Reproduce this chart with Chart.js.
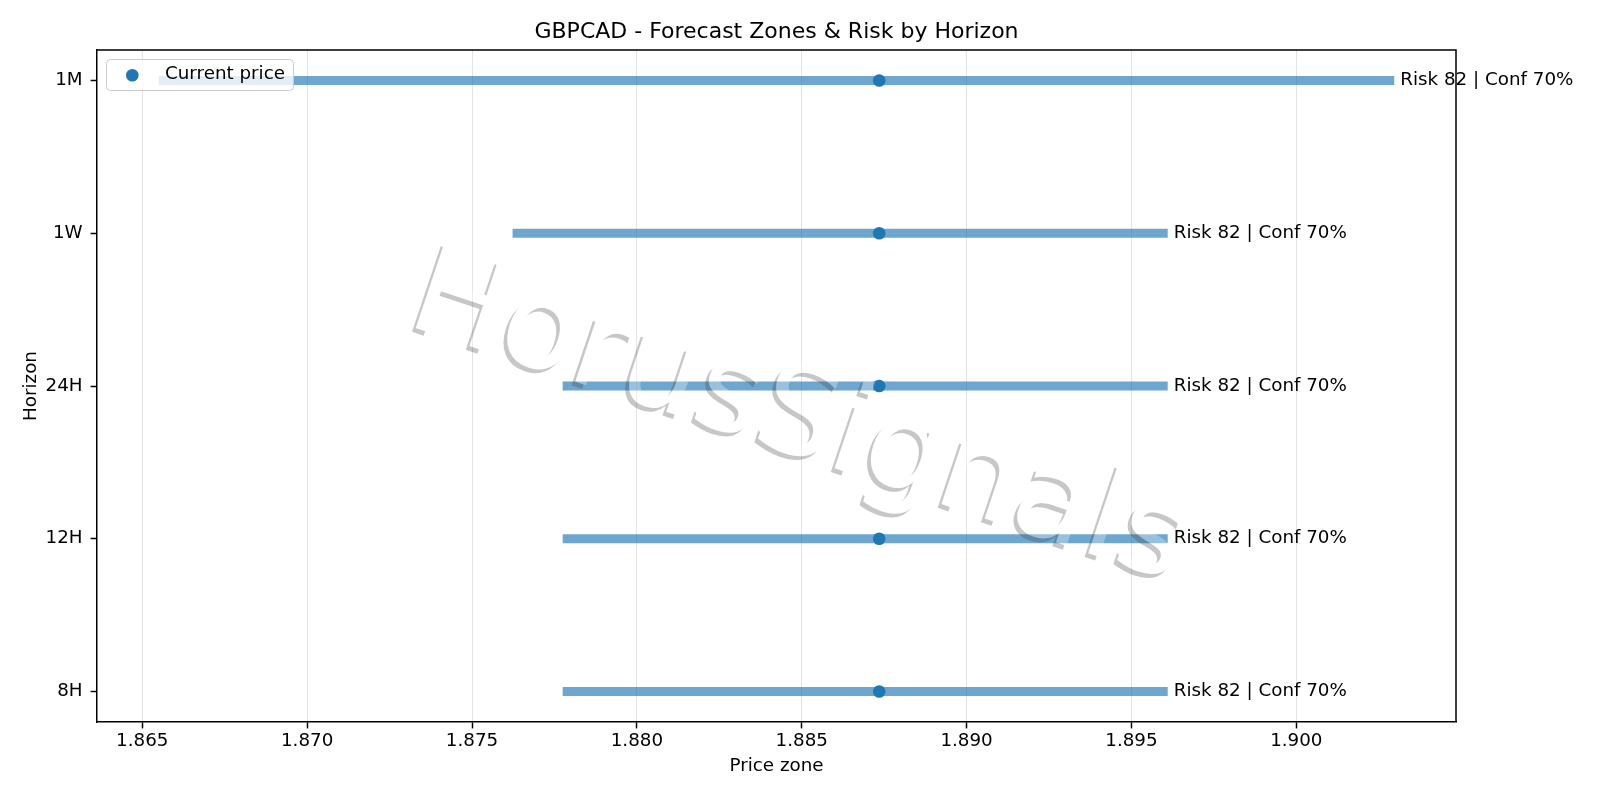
<!DOCTYPE html>
<html><head><meta charset="utf-8">
<script src="https://cdn.jsdelivr.net/npm/chart.js@4/dist/chart.umd.min.js"></script>
<style>html,body{margin:0;padding:0;background:#fff;}canvas{display:block;}</style>
</head><body>
<canvas id="c" width="1600" height="800"></canvas>
<script>
// ---- data ----
const horizons = ['8H', '12H', '24H', '1W', '1M'];
const zoneLow = [1.87775, 1.87775, 1.87775, 1.87623, 1.86550];
const zoneHigh = [1.89610, 1.89610, 1.89610, 1.89610, 1.90297];
const currentPrice = [1.88735, 1.88735, 1.88735, 1.88735, 1.88735];
const riskScores = [82, 82, 82, 82, 82];
const confidences = [70, 70, 70, 70, 70];
const xTicks = [1.865, 1.870, 1.875, 1.880, 1.885, 1.890, 1.895, 1.900];
const chartTitle = 'GBPCAD - Forecast Zones & Risk by Horizon';
const watermarkText = 'HorusSignals';

// ---- styling ----
const FAMILY = "'DejaVu Sans', sans-serif";
const FS = 18.3;
const zoneColor = 'rgba(31,119,180,0.65)';
const dotColor = '#1f77b4';

const allX = zoneLow.concat(zoneHigh, currentPrice);
const dMin = Math.min(...allX), dMax = Math.max(...allX);
const xMin = dMin - 0.05 * (dMax - dMin), xMax = dMax + 0.05 * (dMax - dMin);
const yMin = -0.05 * (horizons.length - 1), yMax = (horizons.length - 1) * 1.05;

const datasets = horizons.map((h, i) => ({
  label: 'Zone ' + h,
  data: [{x: zoneLow[i], y: i}, {x: zoneHigh[i], y: i}],
  showLine: true,
  borderColor: zoneColor,
  borderWidth: 9,
  borderCapStyle: 'butt',
  pointRadius: 0,
  pointHoverRadius: 0,
  order: 2
}));
datasets.push({
  label: 'Current price',
  data: horizons.map((h, i) => ({x: currentPrice[i], y: i})),
  showLine: false,
  pointRadius: 6.3,
  pointBackgroundColor: dotColor,
  pointBorderWidth: 0,
  order: 0
});

function makeWatermark(w, h) {
  const off = document.createElement('canvas');
  off.width = w; off.height = h;
  const c = off.getContext('2d');
  const cx = 798, cy = 422, ang = 18.5 * Math.PI / 180;
  c.font = '124px ' + FAMILY;
  c.textAlign = 'center';
  c.textBaseline = 'middle';
  c.save();
  c.translate(cx - 3.8, cy + 3.8);
  c.rotate(ang);
  c.fillStyle = 'rgb(70,70,70)';
  c.fillText(watermarkText, 0, 0);
  c.restore();
  c.save();
  c.translate(cx, cy);
  c.rotate(ang);
  c.fillStyle = '#ffffff';
  c.fillText(watermarkText, 0, 0);
  c.restore();
  return off;
}

const overlay = {
  id: 'overlay',
  afterDatasetsDraw(chart) {
    const {ctx, chartArea: a, scales: {x, y}} = chart;
    ctx.save();
    // top & right spines
    ctx.strokeStyle = '#000';
    ctx.lineWidth = 1.5;
    ctx.beginPath();
    ctx.moveTo(a.left, a.top); ctx.lineTo(a.right, a.top); ctx.lineTo(a.right, a.bottom);
    ctx.stroke();

    // watermark
    ctx.globalAlpha = 0.3;
    ctx.drawImage(makeWatermark(chart.width, chart.height), 0, 0);
    ctx.globalAlpha = 1;

    // annotations
    ctx.font = FS + 'px ' + FAMILY;
    ctx.fillStyle = '#000';
    ctx.textAlign = 'left';
    ctx.textBaseline = 'middle';
    horizons.forEach((h, i) => {
      ctx.fillText('Risk ' + riskScores[i] + ' | Conf ' + confidences[i] + '%',
        x.getPixelForValue(zoneHigh[i]) + 6, y.getPixelForValue(i));
    });
    ctx.restore();
  },
  afterDraw(chart) {
    const {ctx} = chart;
    const ds = chart.data.datasets[chart.data.datasets.length - 1];
    ctx.save();
    ctx.beginPath();
    ctx.roundRect(106.5, 59.5, 187, 31, 4);
    ctx.fillStyle = 'rgba(255,255,255,0.8)';
    ctx.fill();
    ctx.strokeStyle = '#cccccc';
    ctx.lineWidth = 1;
    ctx.stroke();
    ctx.beginPath();
    ctx.arc(132.3, 75.3, 6.3, 0, Math.PI * 2);
    ctx.fillStyle = ds.pointBackgroundColor;
    ctx.fill();
    ctx.font = FS + 'px ' + FAMILY;
    ctx.fillStyle = '#000';
    ctx.textAlign = 'left';
    ctx.textBaseline = 'middle';
    ctx.fillText(ds.label, 165, 74);
    ctx.restore();
  }
};

new Chart(document.getElementById('c'), {
  type: 'scatter',
  data: {datasets},
  plugins: [overlay],
  options: {
    responsive: false,
    animation: false,
    devicePixelRatio: 1,
    layout: {padding: {left: 0, top: 0, right: 144, bottom: 0}},
    plugins: {
      legend: {display: false},
      tooltip: {enabled: false},
      title: {
        display: true, text: chartTitle, fullSize: false, color: '#000',
        font: {family: FAMILY, size: 22, weight: 'normal'},
        padding: {top: 19.4, bottom: 4.2}
      }
    },
    scales: {
      x: {
        type: 'linear', min: xMin, max: xMax,
        afterBuildTicks: s => { s.ticks = xTicks.map(v => ({value: v})); },
        afterFit: s => { s.height = 78; },
        ticks: {callback: v => Number(v).toFixed(3), color: '#000', font: {family: FAMILY, size: FS}, padding: 2, maxRotation: 0, autoSkip: false},
        grid: {color: 'rgba(176,176,176,0.35)', lineWidth: 1, tickColor: '#000', tickLength: 6.4, tickWidth: 1.5},
        border: {color: '#000', width: 1.5},
        title: {display: true, text: 'Price zone', color: '#000', font: {family: FAMILY, size: FS}, padding: {top: 0, bottom: 23}}
      },
      y: {
        type: 'linear', min: yMin, max: yMax,
        afterBuildTicks: s => { s.ticks = horizons.map((h, i) => ({value: i})); },
        afterFit: s => { s.width = 97; },
        ticks: {callback: v => horizons[v], color: '#000', font: {family: FAMILY, size: FS}, padding: 8, autoSkip: false},
        grid: {drawOnChartArea: false, tickColor: '#000', tickLength: 6.4, tickWidth: 1.5},
        border: {color: '#000', width: 1.5},
        title: {display: true, text: 'Horizon', color: '#000', font: {family: FAMILY, size: FS}, padding: {top: 20.5, bottom: 0}}
      }
    }
  }
});
</script>
</body></html>
